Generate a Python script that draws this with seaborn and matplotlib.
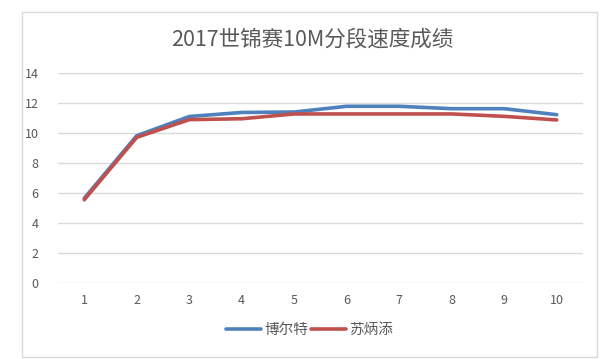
import pandas as pd
import matplotlib.pyplot as plt
import seaborn as sns
from matplotlib.patches import Rectangle

# data
segments = [1, 2, 3, 4, 5, 6, 7, 8, 9, 10]
bolt = [5.65, 9.82, 11.1, 11.37, 11.4, 11.78, 11.78, 11.62, 11.62, 11.22]
su = [5.55, 9.71, 10.89, 10.95, 11.27, 11.27, 11.27, 11.27, 11.11, 10.87]
names = ['博尔特', '苏炳添']
colors = ['#4F81BD', '#C0504D']

df = pd.DataFrame({
    'seg': segments * 2,
    'speed': bolt + su,
    'who': [names[0]] * len(segments) + [names[1]] * len(segments),
})

sns.set_style("white")
plt.rcParams['font.family'] = ['Noto Sans CJK SC', 'DejaVu Sans']

fig = plt.figure(figsize=(6.09, 3.59), dpi=100)
# outer chart border
fig.patches.append(Rectangle((22 / 609, 2 / 359), 575 / 609, 345 / 359,
                             transform=fig.transFigure, fill=False,
                             edgecolor='#d9d9d9', linewidth=1))

ax = fig.add_axes([58 / 609, 76 / 359, 525 / 609, 210 / 359])
sns.lineplot(data=df, x='seg', y='speed', hue='who', palette=colors,
             linewidth=2.6, ax=ax, legend=False)

ax.set_xlim(0.5, 10.5)
ax.set_ylim(0, 14)
ax.set_xticks(segments)
ax.set_yticks(range(0, 15, 2))
ax.set_xlabel('')
ax.set_ylabel('')
ax.grid(axis='y', color='#d9d9d9', linewidth=1)
ax.set_axisbelow(True)
for s in ax.spines.values():
    s.set_visible(False)
ax.tick_params(axis='both', length=0, labelsize=9, colors='#595959')
ax.tick_params(axis='y', pad=14)
ax.tick_params(axis='x', pad=8)

fig.text(0.512, 0.89, '2017世锦赛10M分段速度成绩', ha='center', va='center',
         fontsize=15.5, color='#595959')

handles = [plt.Line2D([], [], color=c, linewidth=2.6) for c in colors]
fig.legend(handles, names, loc='center', bbox_to_anchor=(0.508, 0.08),
           ncol=2, frameon=False, fontsize=10.5, handlelength=2.4,
           handletextpad=0.2, columnspacing=0.2, labelcolor='#595959')

fig.savefig('out.png', dpi=100)
